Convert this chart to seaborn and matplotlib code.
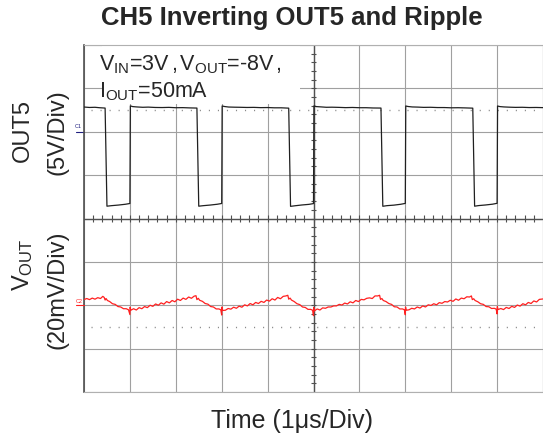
# Captura de osciloscopio: salida inversora OUT5 (nodo de conmutación) y rizado de VOUT
import numpy as np
import pandas as pd
import seaborn as sns
import matplotlib.pyplot as plt
from matplotlib.patches import Rectangle

# Traza OUT5 (tiempo en µs, tensión en V)
out5_t = [0.00, 0.12, 0.24, 0.34, 0.46, 0.50, 0.60, 0.75, 0.90, 1.00,
          1.01, 1.06, 1.15, 1.28, 1.40, 1.55, 1.70, 1.85, 2.00, 2.15, 2.30, 2.46, 2.50, 2.60, 2.75, 2.90, 3.00,
          3.01, 3.06, 3.15, 3.28, 3.40, 3.55, 3.70, 3.85, 4.00, 4.15, 4.30, 4.46, 4.50, 4.60, 4.75, 4.90, 5.00,
          5.01, 5.06, 5.15, 5.28, 5.40, 5.55, 5.70, 5.85, 6.00, 6.15, 6.30, 6.47, 6.51, 6.60, 6.75, 6.90, 7.00,
          7.01, 7.06, 7.15, 7.28, 7.40, 7.55, 7.70, 7.85, 8.00, 8.15, 8.30, 8.47, 8.51, 8.60, 8.75, 8.90, 9.00,
          9.01, 9.06, 9.15, 9.28, 9.40, 9.55, 9.70, 9.85, 10.00]
out5_v = [2.85, 2.80, 2.82, 2.77, 2.73, -8.58, -8.52, -8.45, -8.36, -8.27,
          2.98, 2.90, 2.86, 2.82, 2.84, 2.80, 2.79, 2.81, 2.77, 2.78, 2.75, 2.73, -8.58, -8.52, -8.45, -8.36, -8.27,
          2.97, 2.91, 2.85, 2.83, 2.82, 2.80, 2.81, 2.78, 2.79, 2.76, 2.76, 2.72, -8.60, -8.53, -8.44, -8.37, -8.28,
          2.98, 2.90, 2.87, 2.82, 2.83, 2.81, 2.78, 2.80, 2.77, 2.77, 2.74, 2.73, -8.59, -8.52, -8.46, -8.36, -8.26,
          2.97, 2.91, 2.86, 2.84, 2.81, 2.82, 2.79, 2.79, 2.76, 2.77, 2.75, 2.72, -8.58, -8.51, -8.44, -8.35, -8.25,
          2.97, 2.90, 2.86, 2.83, 2.81, 2.82, 2.79, 2.80, 2.78]

# Rizado de VOUT (tiempo en µs, mV)
ripple_t = [0.00, 0.06, 0.12, 0.18, 0.24, 0.30, 0.36, 0.41, 0.44, 0.46, 0.48, 0.51, 0.56, 0.62, 0.68, 0.74,
            0.80, 0.86, 0.92, 0.97, 1.00, 1.005, 1.02,
            1.08, 1.14, 1.20, 1.26, 1.32, 1.38, 1.44, 1.50, 1.56, 1.62, 1.68, 1.74, 1.80, 1.86, 1.92, 1.98,
            2.04, 2.10, 2.16, 2.22, 2.28, 2.34, 2.40, 2.44, 2.46, 2.49, 2.52, 2.58, 2.64, 2.70, 2.76, 2.82,
            2.88, 2.94, 2.98, 3.00, 3.005, 3.02,
            3.08, 3.14, 3.20, 3.26, 3.32, 3.38, 3.44, 3.50, 3.56, 3.62, 3.68, 3.74, 3.80, 3.86, 3.92, 3.98,
            4.04, 4.10, 4.16, 4.22, 4.28, 4.34, 4.40, 4.44, 4.46, 4.49, 4.52, 4.58, 4.64, 4.70, 4.76, 4.82,
            4.88, 4.94, 4.98, 5.00, 5.005, 5.02,
            5.08, 5.14, 5.20, 5.26, 5.32, 5.38, 5.44, 5.50, 5.56, 5.62, 5.68, 5.74, 5.80, 5.86, 5.92, 5.98,
            6.04, 6.10, 6.16, 6.22, 6.28, 6.34, 6.40, 6.44, 6.46, 6.49, 6.52, 6.58, 6.64, 6.70, 6.76, 6.82,
            6.88, 6.94, 6.98, 7.00, 7.005, 7.02,
            7.08, 7.14, 7.20, 7.26, 7.32, 7.38, 7.44, 7.50, 7.56, 7.62, 7.68, 7.74, 7.80, 7.86, 7.92, 7.98,
            8.04, 8.10, 8.16, 8.22, 8.28, 8.34, 8.40, 8.44, 8.46, 8.49, 8.52, 8.58, 8.64, 8.70, 8.76, 8.82,
            8.88, 8.94, 8.98, 9.00, 9.005, 9.02,
            9.08, 9.14, 9.20, 9.26, 9.32, 9.38, 9.44, 9.50, 9.56, 9.62, 9.68, 9.74, 9.80, 9.86, 9.92, 10.00]
ripple_mv = [2.6, 3.1, 2.6, 3.3, 2.8, 3.5, 3.1, 4.1, 3.6, 2.4, 3.1, 2.2, 1.7, 0.7, 0.4, -0.6,
             -0.8, -1.6, -1.6, -2.1, -4.3, -0.9, -2.3,
             -1.6, -2.2, -1.1, -1.6, -0.6, -1.1, 0.0, -0.5, 0.6, 0.0, 1.1, 0.5, 1.7, 1.1, 2.2, 1.6,
             2.8, 2.2, 3.3, 2.7, 3.8, 3.2, 4.2, 4.4, 2.6, 3.2, 2.3, 1.8, 0.8, 0.5, -0.6, -0.8,
             -1.7, -1.7, -2.1, -4.5, -0.8, -2.4,
             -2.3, -1.5, -1.8, -0.9, -1.4, -0.4, -0.9, 0.2, -0.3, 0.8, 0.2, 1.3, 0.8, 1.8, 1.3, 2.4,
             1.9, 3.0, 2.4, 3.6, 3.0, 4.1, 4.3, 4.6, 2.8, 3.3, 2.4, 1.7, 0.7, 0.3, -0.8, -1.0,
             -1.9, -1.9, -2.3, -4.8, -1.0, -2.6,
             -1.7, -2.2, -1.2, -1.4, -0.8, -0.8, -0.3, -0.3, 0.4, 0.1, 1.0, 0.6, 1.6, 1.1, 2.2, 1.7,
             2.7, 2.5, 3.2, 3.4, 3.1, 4.3, 4.3, 4.6, 2.7, 3.1, 2.2, 1.7, 0.8, 0.4, -0.7, -0.8,
             -1.7, -1.7, -2.1, -4.4, -0.8, -2.3,
             -2.1, -1.4, -1.7, -0.8, -1.3, -0.3, -0.8, 0.2, -0.1, 0.7, 0.2, 1.2, 0.9, 1.7, 1.5, 2.3,
             1.8, 2.9, 2.3, 3.3, 3.0, 3.9, 3.8, 4.3, 2.6, 3.0, 2.2, 1.6, 0.7, 0.4, -0.6, -0.7,
             -1.5, -1.4, -1.8, -4.0, -0.6, -2.0,
             -1.5, -2.0, -1.0, -1.5, -0.5, -1.0, 0.1, -0.4, 0.7, 0.2, 1.3, 0.8, 2.0, 1.5, 2.7, 2.9]

# Escalas de la pantalla: 10 div horizontales (1 µs/div), 8 div verticales
x_ticks = list(range(0, 11))
out5_ticks = list(range(-30, 11, 5))     # 5 V/div, masa de C1 en la div 6
out5_lim = (-30, 10)
ripple_lim = (-40, 120)                  # 20 mV/div, masa de C2 en la div 2

df_out5 = pd.DataFrame({'t': out5_t, 'v': out5_v})
df_rip = pd.DataFrame({'t': ripple_t, 'mv': ripple_mv})

sns.set_style('white')
plt.rcParams['font.family'] = ['Liberation Sans', 'DejaVu Sans']
plt.rcParams['mathtext.fontset'] = 'custom'
plt.rcParams['mathtext.rm'] = 'Liberation Sans'
plt.rcParams['mathtext.it'] = 'Liberation Sans:italic'

fig = plt.figure(figsize=(5.43, 4.33), dpi=100)
ax = fig.add_axes([84/543, 41/433, 459/543, 347/433])
ax.set_xlim(0, 10)
ax.set_ylim(*out5_lim)
ax.set_xticks(x_ticks)
ax.set_yticks(out5_ticks)
ax.tick_params(length=0, labelbottom=False, labelleft=False)
ax.grid(True, color='#a0a0a0', lw=0.8)
ax.set_axisbelow(True)
for s in ['top', 'bottom', 'right']:
    ax.spines[s].set_color('#b0b0b0')
    ax.spines[s].set_linewidth(0.8)
ax.spines['left'].set_color('#505050')
ax.spines['left'].set_linewidth(1.2)

# Ejes centrales con sus marcas de 0.2 div
ax.axhline(-10, color='#505050', lw=1.0, zorder=1.2)
ax.axvline(5, color='#505050', lw=1.0, zorder=1.2)
ax.vlines(np.arange(0.2, 10, 0.2), -10.35, -9.65, color='#505050', lw=0.8, zorder=1.2)
ax.hlines(np.arange(-29, 10, 1.0), 4.94, 5.06, color='#505050', lw=0.8, zorder=1.2)

# Líneas punteadas de referencia
ax.axhline(2.5, xmin=0.015, xmax=0.985, color='#8a8a8a', lw=1.0, ls=(0, (0.8, 5.7)), zorder=1.3)

# Caja blanca tras el texto de condiciones
ax.add_patch(Rectangle((0.04, 0.83), 0.43, 0.17, transform=ax.transAxes,
                       facecolor='white', edgecolor='none', zorder=1.5))

sns.lineplot(data=df_out5, x='t', y='v', ax=ax, estimator=None, sort=False,
             color='#202020', lw=0.9, zorder=3)
ax.set_xlabel('')
ax.set_ylabel('')

ax2 = ax.twinx()
ax2.set_ylim(*ripple_lim)
ax2.set_yticks([])
for s in ax2.spines.values():
    s.set_visible(False)
ax2.axhline(-10, xmin=0.015, xmax=0.985, color='#8a8a8a', lw=1.0, ls=(0, (0.8, 5.7)), zorder=1.3)
sns.lineplot(data=df_rip, x='t', y='mv', ax=ax2, estimator=None, sort=False,
             color='#ff2020', lw=0.9, zorder=3)
ax2.set_ylabel('')

# Marcadores de masa de canal
trans1 = ax.get_yaxis_transform()
ax.text(-0.004, 0.3, 'C1', transform=trans1, fontsize=4, color='#202080', ha='right', va='bottom')
ax.plot([-0.018, 0], [0, 0], transform=trans1, color='#202080', lw=0.8, clip_on=False)
trans2 = ax2.get_yaxis_transform()
ax2.text(-0.004, 0.5, 'C2', transform=trans2, fontsize=4, color='#ff2020', ha='right', va='bottom')
ax2.plot([-0.018, 0], [0, 0], transform=trans2, color='#ff2020', lw=0.8, clip_on=False)

# Textos
fig.text(292/543, 1 - 18/433, 'CH5 Inverting OUT5 and Ripple', fontsize=18.5,
         fontweight='bold', ha='center', va='center')
fig.text(99/543, 1 - 70/433, r'V$_{\mathrm{IN}}$=3V$\,$,$\,$V$_{\mathrm{OUT}}$=-8V$\,$,', fontsize=15.5, va='baseline')
fig.text(99/543, 1 - 97/433, r'I$_{\mathrm{OUT}}$=50mA', fontsize=15.5, va='baseline')
fig.text(23/543, 1 - 130/433, 'OUT5', rotation=90, fontsize=17, ha='center', va='center')
fig.text(57/543, 1 - 132/433, '(5V/Div)', rotation=90, fontsize=17, ha='center', va='center')
fig.text(23/543, 1 - 265/433, r'V$_{\mathrm{OUT}}$', rotation=90, fontsize=17, ha='center', va='center')
fig.text(58/543, 1 - 290/433, '(20mV/Div)', rotation=90, fontsize=17, ha='center', va='center')
fig.text(292/543, 1 - 421/433, 'Time (1μs/Div)', fontsize=18, ha='center', va='center')

plt.savefig('out.png', dpi=100)
